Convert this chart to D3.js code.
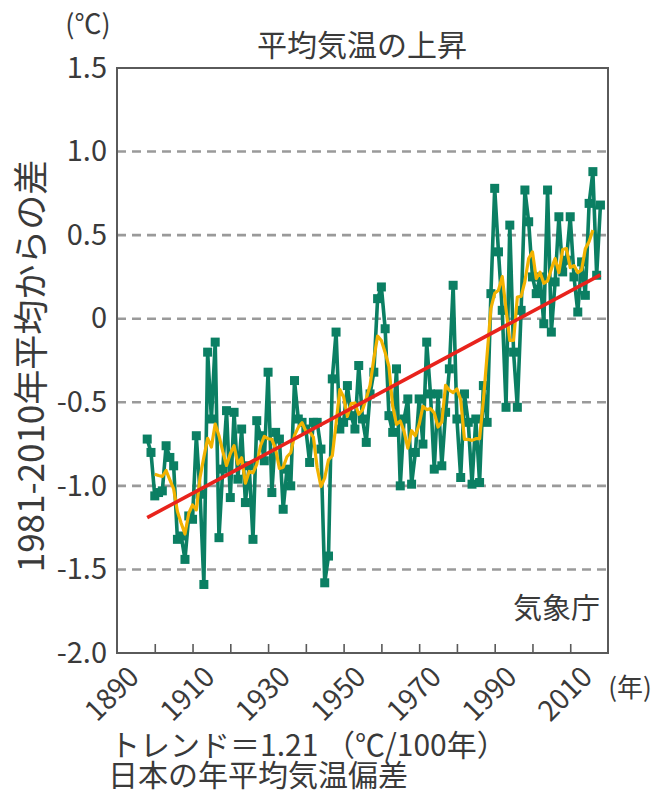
<!DOCTYPE html>
<html lang="ja">
<head>
<meta charset="utf-8">
<script src="https://cdn.jsdelivr.net/npm/d3@7"></script>
<style>
  body { margin: 0; background: #fff; }
  svg { display: block; }
  text { font-family: "Noto Sans CJK JP", "Noto Sans", sans-serif; fill: #3a3a3a; }
</style>
</head>
<body>
<svg id="chart" width="656" height="795"></svg>
<script>
// 日本の年平均気温偏差（1981-2010年平均からの差, ℃）
const firstYear = 1898;
const anomalies = [
  -0.72, -0.80, -1.06, -1.04, -1.03, -0.76, -0.83, -0.88, -1.32, -1.30, // 1898-1907
  -1.44, -1.18, -1.20, -0.70, -1.05, -1.59, -0.20, -0.60, -0.14, -1.31, // 1908-1917
  -0.90, -0.55, -1.07, -0.56, -0.96, -0.66, -1.10, -0.88, -1.32, -0.61, // 1918-1927
  -0.70, -0.85, -0.32, -1.04, -0.68, -0.72, -1.14, -0.90, -1.00, -0.37, // 1928-1937
  -0.60, -0.62, -0.66, -0.86, -0.62, -0.62, -0.78, -1.58, -1.42, -0.36, // 1938-1947
  -0.08, -0.66, -0.62, -0.40, -0.58, -0.66, -0.28, -0.60, -0.74, -0.45, // 1948-1957
  -0.32,  0.12,  0.19, -0.06, -0.58, -0.68, -0.30, -1.00, -0.60, -0.48, // 1958-1967
  -0.99, -0.80, -0.48, -0.75, -0.14, -0.45, -0.90, -0.45, -0.88, -0.56, // 1968-1977
  -0.30,  0.20, -0.60, -0.95, -0.45, -0.62, -0.99, -0.60, -0.98, -0.40, // 1978-1987
  -0.62,  0.15,  0.78,  0.40,  0.05, -0.53,  0.56, -0.20, -0.53,  0.05, // 1988-1997
   0.77,  0.58,  0.25,  0.15,  0.25, -0.03,  0.77, -0.08,  0.22,  0.61, // 1998-2007
   0.28,  0.35,  0.61,  0.25,  0.04,  0.34,  0.14,  0.69,  0.88,  0.26, // 2008-2017
   0.68                                                                // 2018
];
const years = anomalies.map((_, i) => firstYear + i);

// 長期変化傾向（トレンド）
const trendPer100 = 1.21;
const trendAtFirstYear = -1.19;

// 5年移動平均の窓幅
const smoothWindow = 5;

const yTicks = [1.5, 1.0, 0.5, 0, -0.5, -1.0, -1.5, -2.0];
const yTickLabels = ["1.5", "1.0", "0.5", "0", "-0.5", "-1.0", "-1.5", "-2.0"];
const yGridValues = [1.0, 0.5, 0, -0.5, -1.0, -1.5];
const xTickYears = d3.range(1900, 2011, 10);
const xLabelYears = [1890, 1910, 1930, 1950, 1970, 1990, 2010];

const colors = {
  annual: "#0b7f63",
  smooth: "#f2b200",
  trend: "#e8231c",
  grid: "#9a9a9a",
  frame: "#5a5a5a"
};

const margin = { top: 68, right: 48, bottom: 142, left: 117 };
const W = 656, H = 795;
const innerW = W - margin.left - margin.right;
const innerH = H - margin.top - margin.bottom;

const svg = d3.select("#chart");
const g = svg.append("g").attr("transform", `translate(${margin.left},${margin.top})`);

const x = d3.scaleLinear().domain([1890, 2020]).range([0, innerW]);
const y = d3.scaleLinear().domain([-2.0, 1.5]).range([innerH, 0]);

// 破線の目盛線
g.append("g")
  .selectAll("line")
  .data(yGridValues)
  .join("line")
  .attr("x1", 0).attr("x2", innerW)
  .attr("y1", d => y(d)).attr("y2", d => y(d))
  .attr("stroke", colors.grid)
  .attr("stroke-width", 2.6)
  .attr("stroke-dasharray", "9,6");

// 縦軸の数値
const yAxis = d3.axisLeft(y)
  .tickValues(yTicks)
  .tickSize(0)
  .tickPadding(10)
  .tickFormat((d, i) => yTickLabels[i]);
const yAxisG = g.append("g").call(yAxis);
yAxisG.select(".domain").remove();
yAxisG.selectAll("text")
  .attr("font-size", 29)
  .attr("fill", "#3a3a3a")
  .style("font-family", '"Noto Sans CJK JP", "Noto Sans", sans-serif');

// 横軸：内向きの目盛
const xAxis = d3.axisTop(x)
  .tickValues(xTickYears)
  .tickSize(-9)
  .tickFormat("");
const xAxisG = g.append("g").attr("transform", `translate(0,${innerH})`).call(xAxis);
xAxisG.select(".domain").remove();
xAxisG.selectAll("line").attr("stroke", colors.frame).attr("stroke-width", 1.6)
  .attr("y2", -9);

// 横軸の年ラベル（斜め）
g.append("g")
  .selectAll("text")
  .data(xLabelYears)
  .join("text")
  .attr("transform", d => `translate(${x(d) + 10},${innerH + 12}) rotate(-45)`)
  .attr("text-anchor", "end")
  .attr("dy", "0.7em")
  .attr("font-size", 28)
  .text(d => d);

// 5年移動平均
const smoothData = [];
const half = Math.floor(smoothWindow / 2);
for (let i = half; i < anomalies.length - half; i++) {
  smoothData.push({ year: years[i], value: d3.mean(anomalies.slice(i - half, i + half + 1)) });
}

const annualData = years.map((yr, i) => ({ year: yr, value: anomalies[i] }));

const line = d3.line().x(d => x(d.year)).y(d => y(d.value));

// 年ごとの値
g.append("path")
  .datum(annualData)
  .attr("fill", "none")
  .attr("stroke", colors.annual)
  .attr("stroke-width", 3.6)
  .attr("stroke-linejoin", "round")
  .attr("d", line);

g.append("g")
  .selectAll("rect")
  .data(annualData)
  .join("rect")
  .attr("x", d => x(d.year) - 4.5)
  .attr("y", d => y(d.value) - 4.5)
  .attr("width", 9)
  .attr("height", 9)
  .attr("fill", colors.annual);

g.append("path")
  .datum(smoothData)
  .attr("fill", "none")
  .attr("stroke", colors.smooth)
  .attr("stroke-width", 3.2)
  .attr("stroke-linejoin", "round")
  .attr("d", line);

// トレンド直線
const lastYear = years[years.length - 1];
const trendData = [firstYear, lastYear].map(yr => ({
  year: yr,
  value: trendAtFirstYear + trendPer100 / 100 * (yr - firstYear)
}));
g.append("path")
  .datum(trendData)
  .attr("fill", "none")
  .attr("stroke", colors.trend)
  .attr("stroke-width", 3.6)
  .attr("d", line);

// 枠
g.append("rect")
  .attr("x", 0).attr("y", 0)
  .attr("width", innerW).attr("height", innerH)
  .attr("fill", "none")
  .attr("stroke", colors.frame)
  .attr("stroke-width", 2);

// 出典
g.append("text")
  .attr("x", innerW - 8).attr("y", innerH - 34)
  .attr("text-anchor", "end")
  .attr("font-size", 29)
  .text("気象庁");

// タイトルと単位
svg.append("text")
  .attr("x", 362).attr("y", 56)
  .attr("text-anchor", "middle")
  .attr("font-size", 30)
  .text("平均気温の上昇");

svg.append("text")
  .attr("x", 88).attr("y", 34)
  .attr("text-anchor", "middle")
  .attr("font-size", 27)
  .text("(℃)");

svg.append("text")
  .attr("transform", `translate(44,366) rotate(-90)`)
  .attr("text-anchor", "middle")
  .attr("font-size", 35)
  .text("1981-2010年平均からの差");

svg.append("text")
  .attr("x", 630).attr("y", 697)
  .attr("text-anchor", "middle")
  .attr("font-size", 26)
  .text("(年)");

svg.append("text")
  .attr("x", 110).attr("y", 756)
  .attr("font-size", 30)
  .text("トレンド＝1.21 （℃/100年）");

svg.append("text")
  .attr("x", 108).attr("y", 786)
  .attr("font-size", 30)
  .text("日本の年平均気温偏差");
</script>
</body>
</html>
